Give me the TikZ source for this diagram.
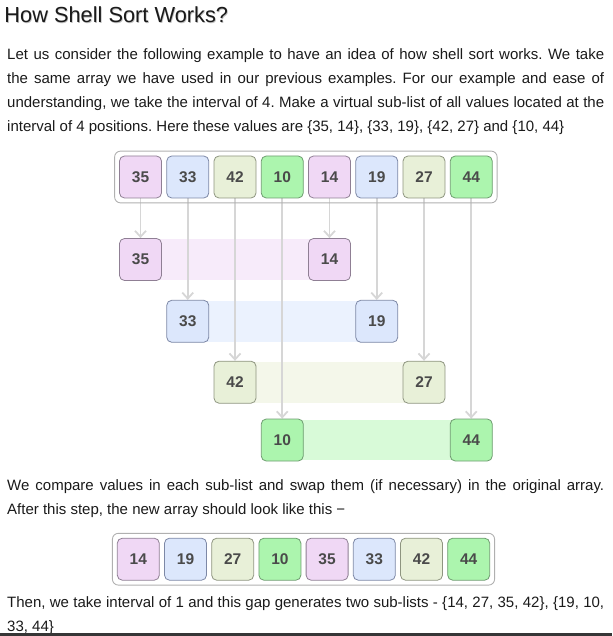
\documentclass[tikz,border=0pt]{standalone}
\usepackage{fontspec}
\setmainfont{Liberation Sans}
\usetikzlibrary{arrows.meta,fit,backgrounds}
\definecolor{pinkf}{HTML}{F0D8F5}
\definecolor{pinkd}{HTML}{8F7F94}
\definecolor{bluef}{HTML}{DCE7FC}
\definecolor{blued}{HTML}{7D88A6}
\definecolor{beigef}{HTML}{E8F0D8}
\definecolor{beiged}{HTML}{8E9580}
\definecolor{greenf}{HTML}{ACF5AE}
\definecolor{greend}{HTML}{6E9C70}
\definecolor{pinkband}{HTML}{F7EBFA}
\definecolor{blueband}{HTML}{EBF2FE}
\definecolor{beigeband}{HTML}{F4F7EA}
\definecolor{greenband}{HTML}{D8FAD8}
\definecolor{numc}{HTML}{4A4A4A}
\definecolor{txt}{HTML}{1A1A1A}
\definecolor{arrc}{HTML}{D6D6D6}
\definecolor{outerc}{HTML}{B0B0B0}
\definecolor{barc}{HTML}{363636}
\tikzset{
  cell/.style={draw, rounded corners=5pt, minimum width=42pt, minimum height=42pt,
    inner sep=0pt, line width=0.8pt, text=numc, font=\bfseries\fontsize{15.5}{15}\selectfont},
  pinkcell/.style={cell, fill=pinkf, draw=pinkd},
  bluecell/.style={cell, fill=bluef, draw=blued},
  beigecell/.style={cell, fill=beigef, draw=beiged},
  greencell/.style={cell, fill=greenf, draw=greend},
  outerbox/.style={draw=outerc, rounded corners=6pt, line width=0.9pt, inner sep=4.5pt},
  arr/.style={draw=arrc, line width=1.8pt, -{Straight Barb[length=6pt,width=11pt]}},
  bodytext/.style={anchor=base west, inner sep=0pt, text=txt, font=\fontsize{15}{24}\selectfont\frenchspacing},
}
\newcommand{\jline}[1]{\hbox to 597pt{#1}}
\begin{document}
\frenchspacing
\begin{tikzpicture}[x=1pt,y=-1pt]
\useasboundingbox (0,0) rectangle (612,636);
% heading
\node[anchor=base west, inner sep=0pt, text=gray, opacity=0.5, font=\fontsize{21.8}{24}\selectfont] (hshadow) at (4.9,23.4) {How Shell Sort Works?};
\node[anchor=base west, inner sep=0pt, text=txt, font=\fontsize{21.8}{24}\selectfont] (head) at (4.2,22.7) {How Shell Sort Works?};
% paragraph 1
\node[bodytext] (p1a) at (7,59.5) {\jline{Let us consider the following example to have an idea of how shell sort works. We take}};
\node[bodytext] (p1b) at (7,83.5) {\jline{the same array we have used in our previous examples. For our example and ease of}};
\node[bodytext] (p1c) at (7,107.5) {\jline{understanding, we take the interval of 4. Make a virtual sub-list of all values located at the}};
\node[bodytext] (p1d) at (7,131.5) {interval of 4 positions. Here these values are \{35, 14\}, \{33, 19\}, \{42, 27\} and \{10, 44\}};
% top array
\node[pinkcell]  (t1) at (140.5,177) {35};
\node[bluecell]  (t2) at (187.75,177) {33};
\node[beigecell] (t3) at (235,177) {42};
\node[greencell] (t4) at (282.25,177) {10};
\node[pinkcell]  (t5) at (329.5,177) {14};
\node[bluecell]  (t6) at (376.75,177) {19};
\node[beigecell] (t7) at (424,177) {27};
\node[greencell] (t8) at (471.25,177) {44};
\node[outerbox, fit=(t1)(t8)] (tout) {};
% sub-lists
\node[pinkcell]  (r1a) at (140.5,259.5) {35};
\node[pinkcell]  (r1b) at (329.5,259.5) {14};
\node[bluecell]  (r2a) at (187.75,321.3) {33};
\node[bluecell]  (r2b) at (376.75,321.3) {19};
\node[beigecell] (r3a) at (235,382.2) {42};
\node[beigecell] (r3b) at (424,382.2) {27};
\node[greencell] (r4a) at (282.25,440) {10};
\node[greencell] (r4b) at (471.25,440) {44};
\begin{scope}[on background layer]
  \fill[pinkband]  ([yshift=-1pt]r1a.north) rectangle ([yshift=1pt]r1b.south);
  \fill[blueband]  ([yshift=-1pt]r2a.north) rectangle ([yshift=1pt]r2b.south);
  \fill[beigeband] ([yshift=-1pt]r3a.north) rectangle ([yshift=1pt]r3b.south);
  \fill[greenband] ([yshift=-1pt]r4a.north) rectangle ([yshift=1pt]r4b.south);
  \draw[arr] (t1) -- (r1a);
  \draw[arr] (t5) -- (r1b);
  \draw[arr] (t2) -- (r2a);
  \draw[arr] (t6) -- (r2b);
  \draw[arr] (t3) -- (r3a);
  \draw[arr] (t7) -- (r3b);
  \draw[arr] (t4) -- (r4a);
  \draw[arr] (t8) -- (r4b);
\end{scope}
% paragraph 2
\node[bodytext] (p2a) at (7,490.5) {\jline{We compare values in each sub-list and swap them (if necessary) in the original array.}};
\node[bodytext] (p2b) at (7,514.5) {After this step, the new array should look like this −};
% bottom array
\node[pinkcell]  (b1) at (138.3,559.2) {14};
\node[bluecell]  (b2) at (185.5,559.2) {19};
\node[beigecell] (b3) at (232.7,559.2) {27};
\node[greencell] (b4) at (279.9,559.2) {10};
\node[pinkcell]  (b5) at (327.1,559.2) {35};
\node[bluecell]  (b6) at (374.3,559.2) {33};
\node[beigecell] (b7) at (421.5,559.2) {42};
\node[greencell] (b8) at (468.7,559.2) {44};
\node[outerbox, fit=(b1)(b8)] (bout) {};
% paragraph 3
\node[bodytext] (p3a) at (7,607.5) {\jline{Then, we take interval of 1 and this gap generates two sub-lists - \{14, 27, 35, 42\}, \{19, 10,}};
\node[bodytext] (p3b) at (7,631) {33, 44\}};
\fill[barc] (0,632.5) rectangle (612,636);
\end{tikzpicture}
\end{document}
